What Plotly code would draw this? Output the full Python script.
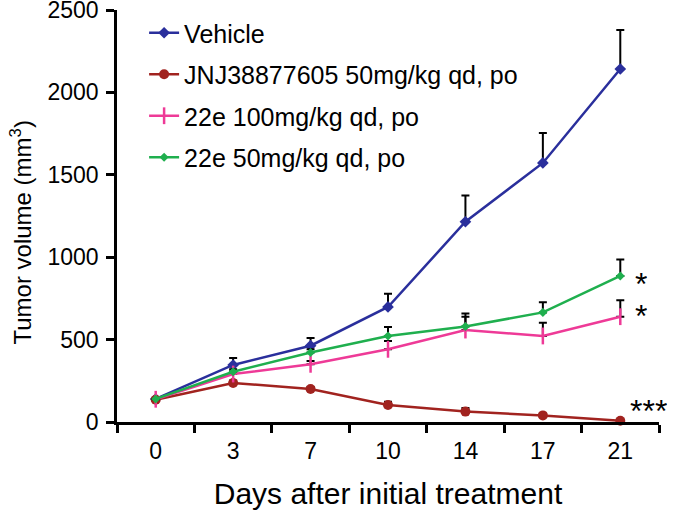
import plotly.graph_objects as go

days = ["0", "3", "7", "10", "14", "17", "21"]

vehicle = [140, 346, 463, 698, 1215, 1572, 2142]
vehicle_err = [0, 42, 47, 80, 160, 182, 237]

jnj = [135, 237, 200, 103, 63, 40, 8]
jnj_err = [0, 15, 12, 20, 22, 12, 0]

e22_100 = [138, 291, 350, 441, 558, 522, 639]
e22_100_err = [0, 15, 20, 50, 80, 80, 100]

e22_50 = [140, 305, 422, 522, 580, 665, 886]
e22_50_err = [0, 15, 20, 55, 78, 62, 100]

names = ["Vehicle", "JNJ38877605 50mg/kg qd, po", "22e 100mg/kg qd, po", "22e 50mg/kg qd, po"]
colors = ["#2A2F9C", "#A1231F", "#EE3A97", "#1FAF4E"]

fig = go.Figure()

def add(y, err, name, color, marker, order):
    fig.add_trace(go.Scatter(
        x=days, y=y, name=name, mode="lines+markers",
        line=dict(color=color, width=2.5),
        marker=marker,
        error_y=dict(type="data", symmetric=False, array=err,
                     arrayminus=[0] * len(err), color="black",
                     thickness=2, width=4),
        legendgroup=str(order), cliponaxis=False,
    ))

add(vehicle, vehicle_err, names[0], colors[0], dict(symbol="diamond", size=9, color=colors[0]), 0)
add(jnj, jnj_err, names[1], colors[1], dict(symbol="circle", size=10, color=colors[1]), 1)
add(e22_100, e22_100_err, names[2], colors[2],
    dict(symbol="line-ns", size=12, color=colors[2], line=dict(color=colors[2], width=2.5)), 2)
add(e22_50, e22_50_err, names[3], colors[3], dict(symbol="diamond", size=7, color=colors[3]), 3)

# significance marks
sig_text = ["*", "*", "***"]
sig_y = [e22_50[-1], e22_100[-1], jnj[-1]]
sig_xshift = [21, 21, 28]
sig_yshift = [-8, 1, 10]
last_idx = len(days) - 1
for t, yv, xs, ys in zip(sig_text, sig_y, sig_xshift, sig_yshift):
    fig.add_annotation(x=last_idx, y=yv, xref="x", yref="y", text=t,
                       showarrow=False, xshift=xs, yshift=ys, height=24,
                       font=dict(size=32, color="black"))

# y-axis title (placed as rotated text so it can sit slightly below centre)
fig.add_annotation(x=-0.177, y=0.46, xref="paper", yref="paper",
                   text="Tumor volume (mm<sup>3</sup>)", textangle=-90,
                   showarrow=False, xanchor="center", yanchor="middle",
                   font=dict(size=24, color="black"))

fig.update_layout(
    width=673, height=513,
    margin=dict(l=117, r=14, t=10, b=91),
    paper_bgcolor="white", plot_bgcolor="white",
    font=dict(family="Liberation Sans, Arial, sans-serif", color="black"),
    showlegend=True,
    legend=dict(x=0.05, y=1.0, xanchor="left", yanchor="top",
                font=dict(size=25), tracegroupgap=6,
                bgcolor="rgba(0,0,0,0)", traceorder="grouped"),
    xaxis=dict(type="category", range=[-0.5, 6.5], showline=True,
               linecolor="black", linewidth=2.5, ticks="outside",
               ticklen=8, tickwidth=2.5, tickcolor="black",
               tickson="boundaries", showgrid=False, zeroline=False,
               automargin=False, ticklabeloverflow="allow",
               ticklabelstandoff=7, tickfont=dict(size=23),
               title=dict(text="Days after initial treatment",
                          font=dict(size=30), standoff=20)),
    yaxis=dict(range=[0, 2500], showline=True, linecolor="black",
               linewidth=2.5, ticks="outside", ticklen=8, tickwidth=2.5,
               tickcolor="black", tickvals=[0, 500, 1000, 1500, 2000, 2500],
               showgrid=False, zeroline=False, automargin=False,
               ticklabeloverflow="allow", ticklabelstandoff=3,
               tickfont=dict(size=23)),
)

# remove the default page margin so the figure sits at the window's corner
fig.write_html("out.html", config={"displayModeBar": False},
               post_script="document.body.style.margin='0';")
